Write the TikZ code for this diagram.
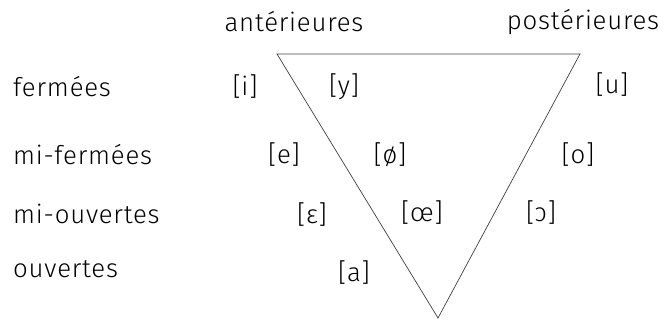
\documentclass[tikz,border=0pt]{standalone}
\usepackage{fontspec}
\setmainfont{Fira Sans Light}[LetterSpace=3]
\begin{document}
\begin{tikzpicture}[x=0.03cm, y=-0.03cm, font=\fontsize{22}{26}\selectfont,
  label/.style={inner sep=0pt, anchor=center},
  row/.style={inner sep=0pt, anchor=west},
  edge/.style={draw=black!75, line width=0.6pt}]

  \useasboundingbox (0,0) rectangle (666,320);

  % triangle
  \coordinate (tl) at (277,54);
  \coordinate (tr) at (580,54);
  \coordinate (bot) at (438,318);
  \draw[edge] (tl) -- (tr) -- (bot) -- cycle;

  % columns
  \node[label] (ant) at (294,22) {antérieures};
  \node[label] (post) at (583,22) {postérieures};

  % rows
  \node[row] (ferm) at (13,87) {fermées};
  \node[row] (mferm) at (13,155) {mi-fermées};
  \node[row] (mouv) at (13,214) {mi-ouvertes};
  \node[row] (ouv) at (13,269) {ouvertes};

  % vowels
  \node[label] (i) at (245,87) {[i]};
  \node[label] (y) at (344,87) {[y]};
  \node[label] (u) at (612,85) {[u]};

  \node[label] (e) at (284,155) {[e]};
  \node[label] (oslash) at (390,155) {[ø]};
  \node[label] (o) at (578,155) {[o]};

  \node[label] (epsilon) at (312,215) {[ɛ]};
  \node[label] (oe) at (422,213) {[œ]};
  \node[label] (openo) at (541,213) {[ɔ]};

  \node[label] (a) at (354,273) {[a]};

\end{tikzpicture}
\end{document}
